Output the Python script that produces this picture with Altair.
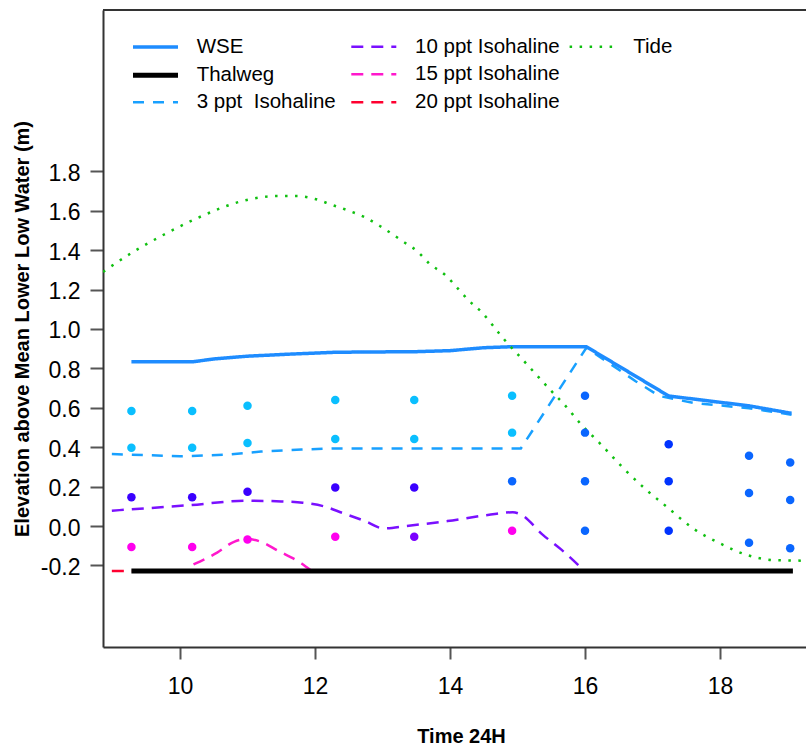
import altair as alt
import pandas as pd

FONT = "Liberation Sans"

# ---------------- data (time in hours, elevation in m) ----------------
wse_time = [9.28, 10.2, 10.5, 11.0, 11.6, 12.3, 13.5, 14.0, 14.5, 14.92, 16.02, 17.24, 18.43, 19.06]
wse_elev = [0.834, 0.834, 0.848, 0.862, 0.872, 0.882, 0.885, 0.89, 0.905, 0.91, 0.91, 0.66, 0.61, 0.572]

thalweg_time = [9.28, 19.08]
thalweg_elev = [-0.228, -0.228]

iso3_time = [8.99, 9.28, 10.0, 10.7, 11.2, 11.8, 12.3, 13.5, 14.92, 15.05, 16.02, 16.75, 17.1, 17.6, 18.43, 19.06]
iso3_elev = [0.365, 0.362, 0.354, 0.362, 0.378, 0.388, 0.394, 0.394, 0.394, 0.394, 0.905, 0.735, 0.66, 0.625, 0.598, 0.565]

iso10_time = [8.99, 10.11, 10.99, 11.5, 11.82, 12.13, 12.41, 12.74, 13.02, 13.35, 13.96, 14.56, 14.93, 15.04, 15.38, 15.65, 15.99]
iso10_elev = [0.078, 0.105, 0.128, 0.125, 0.118, 0.10, 0.066, 0.025, -0.012, 0.0, 0.025, 0.056, 0.07, 0.06, -0.046, -0.12, -0.228]

iso15_time = [10.2, 10.55, 10.8, 11.0, 11.2, 11.45, 11.8, 11.95]
iso15_elev = [-0.195, -0.135, -0.08, -0.066, -0.08, -0.125, -0.19, -0.228]

iso20_time = [8.99, 19.04]
iso20_elev = [-0.228, -0.228]

tide_time = [8.86, 9.31, 9.80, 10.25, 10.99, 11.43, 11.73, 12.0, 12.25, 12.47, 12.74, 12.96, 13.31,
             13.51, 13.70, 13.93, 14.10, 14.27, 14.47, 14.72, 14.81, 15.08, 15.51, 15.70, 15.95,
             16.22, 16.57, 16.91, 17.21, 17.60, 18.0, 18.40, 18.79, 19.19, 19.27]
tide_elev = [1.29, 1.392, 1.486, 1.562, 1.655, 1.675, 1.675, 1.66, 1.63, 1.604, 1.567, 1.523, 1.443,
             1.396, 1.33, 1.274, 1.212, 1.147, 1.085, 0.981, 0.944, 0.843, 0.682, 0.614, 0.513,
             0.42, 0.293, 0.183, 0.098, -0.012, -0.088, -0.147, -0.173, -0.176, -0.18]

point_time = [9.28, 9.28, 9.28, 9.28,
              10.18, 10.18, 10.18, 10.18,
              11.0, 11.0, 11.0, 11.0,
              12.3, 12.3, 12.3, 12.3,
              13.47, 13.47, 13.47, 13.47,
              14.92, 14.92, 14.92, 14.92,
              16.0, 16.0, 16.0, 16.0,
              17.24, 17.24, 17.24,
              18.43, 18.43, 18.43,
              19.04, 19.04, 19.04]
point_elev = [0.584, 0.397, 0.146, -0.107,
              0.584, 0.397, 0.146, -0.107,
              0.611, 0.421, 0.174, -0.068,
              0.64, 0.442, 0.196, -0.054,
              0.64, 0.442, 0.196, -0.054,
              0.661, 0.474, 0.227, -0.024,
              0.661, 0.474, 0.227, -0.024,
              0.415, 0.227, -0.024,
              0.357, 0.168, -0.085,
              0.323, 0.132, -0.113]
point_color = ["#0ABFFF", "#0ABFFF", "#3A00FF", "#FF00EE",
               "#0ABFFF", "#0ABFFF", "#3A00FF", "#FF00EE",
               "#0ABFFF", "#0ABFFF", "#3A00FF", "#FF00EE",
               "#0ABFFF", "#0ABFFF", "#3A00FF", "#FF00EE",
               "#0ABFFF", "#0ABFFF", "#3A00FF", "#7A00FF",
               "#0ABFFF", "#0ABFFF", "#0A66FF", "#FF00EE",
               "#0A66FF", "#0A66FF", "#0A66FF", "#0A66FF",
               "#0033FF", "#0033FF", "#0033FF",
               "#0A66FF", "#0A66FF", "#0A66FF",
               "#0A66FF", "#0A66FF", "#0A66FF"]

y_ticks = [-0.2, 0.0, 0.2, 0.4, 0.6, 0.8, 1.0, 1.2, 1.4, 1.6, 1.8]
x_ticks = [10, 12, 14, 16, 18]

# series names (legend fills columns of 3 rows; last entry is an empty slot)
S_WSE = "WSE"
S_THAL = "Thalweg"
S_3 = "\u00a03 ppt\u00a0\u00a0Isohaline"
S_10 = "10 ppt Isohaline"
S_15 = "15 ppt Isohaline"
S_20 = "20 ppt Isohaline"
S_TIDE = "Tide"
S_BLANK = "\u00a0"

legend_order = [S_WSE, S_THAL, S_3, S_10, S_15, S_20, S_TIDE, S_BLANK]
legend_colors = ["#1E8CFF", "#000000", "#18A0FF", "#7A10FF", "#FF18CC", "#FF0030", "#10C010", "#FFFFFF"]
legend_dashes = [[1, 0], [1, 0], [11, 9], [12, 8], [12, 8], [12, 8], [2.5, 7.5], [1, 0]]
legend_widths = [3.5, 5, 2.5, 2.5, 2.5, 2.5, 2.5, 0.1]


def frame(times, elevs, name):
    return pd.DataFrame({"time": times, "elev": elevs, "series": name})


df_20 = frame(iso20_time, iso20_elev, S_20)
df_smooth = pd.concat([frame(iso10_time, iso10_elev, S_10), frame(iso15_time, iso15_elev, S_15)])
df_linear = pd.concat([frame(iso3_time, iso3_elev, S_3), frame(wse_time, wse_elev, S_WSE),
                       frame(thalweg_time, thalweg_elev, S_THAL)])
df_tide = frame(tide_time, tide_elev, S_TIDE)
df_pts = pd.DataFrame({"time": point_time, "elev": point_elev, "pcolor": point_color})

W, H = 703, 637
xscale = alt.Scale(domain=[8.859, 19.274], nice=False, zero=False)
yscale = alt.Scale(domain=[-0.614, 2.619], nice=False, zero=False)

xaxis = alt.Axis(values=x_ticks, format="d", title="Time 24H",
                 titleFont=FONT, titleFontWeight="bold", titleFontSize=20, titleColor="black",
                 titleX=358, titleY=95, titleBaseline="alphabetic", titleAlign="center",
                 labelFont=FONT, labelFontSize=23, labelColor="black", labelPadding=16,
                 tickSize=12, tickColor="#555555", tickWidth=2,
                 domainColor="#333333", domainWidth=2, grid=False, labelFlush=False)
yaxis = alt.Axis(values=y_ticks,
                 labelExpr="datum.value < 0 ? '-' + format(-datum.value, '.1f') : format(datum.value, '.1f')",
                 title="Elevation above Mean Lower Low Water (m)",
                 titleFont=FONT, titleFontWeight="bold", titleFontSize=20, titleColor="black",
                 titleX=-81, titleY=H / 2, titleBaseline="middle", titleAngle=270, titleAlign="center",
                 labelFont=FONT, labelFontSize=23, labelColor="black", labelPadding=10, labelOffset=2,
                 tickSize=13, tickColor="#555555", tickWidth=2,
                 domainColor="#333333", domainWidth=2, grid=False, labelFlush=False)

leg = alt.Legend(title=None, orient="none", legendX=30, legendY=24.75, columns=3,
                 symbolType="M-2.25,0H2.25", symbolSize=400, symbolOffset=10, labelOffset=28.7,
                 labelFont=FONT, labelFontSize=20.5, labelColor="black", labelLimit=400,
                 rowPadding=5, columnPadding=4.3, gridAlign="all", padding=0,
                 symbolFillColor="transparent")


def lines(df, interp):
    return alt.Chart(df).mark_line(interpolate=interp, clip=True).encode(
        x=alt.X("time:Q", scale=xscale, axis=xaxis),
        y=alt.Y("elev:Q", scale=yscale, axis=yaxis),
        color=alt.Color("series:N", scale=alt.Scale(domain=legend_order, range=legend_colors), legend=leg),
        strokeDash=alt.StrokeDash("series:N", scale=alt.Scale(domain=legend_order, range=legend_dashes), legend=leg),
        strokeWidth=alt.StrokeWidth("series:N", scale=alt.Scale(type="ordinal", domain=legend_order, range=legend_widths), legend=leg),
    )


points = alt.Chart(df_pts).mark_circle(size=72, opacity=1).encode(
    x=alt.X("time:Q", scale=xscale, axis=xaxis),
    y=alt.Y("elev:Q", scale=yscale, axis=yaxis),
    fill=alt.Fill("pcolor:N", scale=None),
)

top_border = alt.Chart(pd.DataFrame({"k": [0]})).mark_rule(color="#333333", strokeWidth=2).encode(
    x=alt.value(0), x2=alt.value(W), y=alt.value(0)
)

chart = alt.layer(
    lines(df_20, "linear"),
    lines(df_smooth, "monotone"),
    lines(df_linear, "linear"),
    lines(df_tide, "monotone"),
    points,
    top_border,
).properties(
    width=W, height=H,
    padding={"left": 103, "top": 10, "right": 0, "bottom": 99},
    autosize=alt.AutoSizeParams(type="none"),
    background="white",
).configure_view(stroke=None)

chart.save("out.html", embed_options={"renderer": "svg", "actions": False})
